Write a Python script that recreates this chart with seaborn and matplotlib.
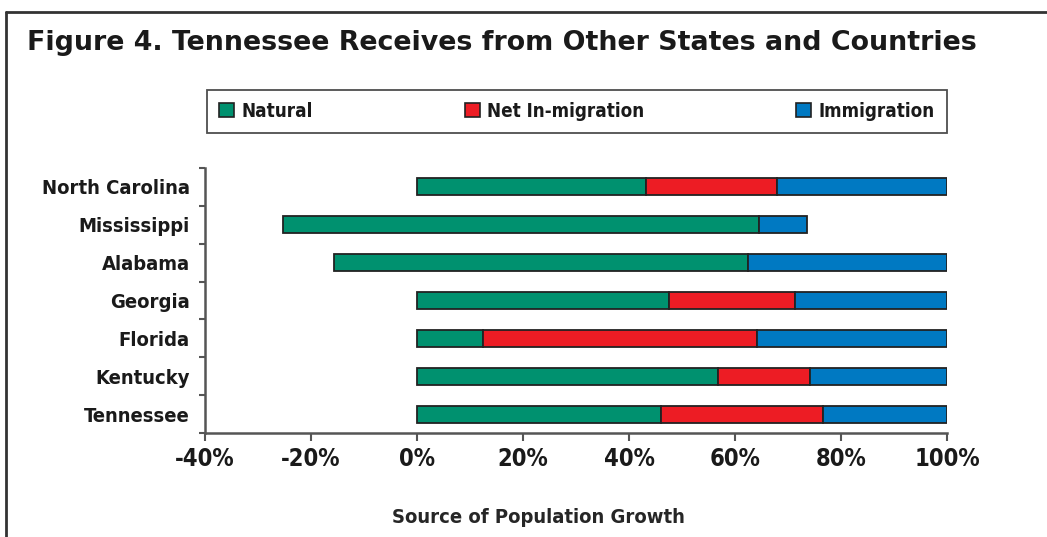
# stacked source-of-growth bars, Figure 4 style

import numpy as np
import pandas as pd
import matplotlib
matplotlib.use("Agg")
import matplotlib.pyplot as plt
import seaborn as sns
from matplotlib.lines import Line2D
from matplotlib.patches import Patch
from matplotlib.ticker import FixedLocator

states = ["North Carolina", "Mississippi", "Alabama", "Georgia", "Florida", "Kentucky", "Tennessee"]
natural = [43.3, 64.5, 62.4, 47.5, 12.4, 56.8, 46.0]
net_in = [24.7, -25.2, -15.6, 23.8, 51.8, 17.4, 30.6]
immigration = [32.0, 9.0, 37.6, 28.7, 35.8, 25.8, 23.4]

series_names = ["Natural", "Net In-migration", "Immigration"]
colors = ["#00916f", "#ed1c24", "#0079c2"]
x_ticks = [-40, -20, 0, 20, 40, 60, 80, 100]

df = pd.DataFrame({"state": states, "natural": natural, "net_in": net_in, "immigration": immigration})
# green spans from the negative net migration (if any) up to the natural share
df["green_left"] = df["net_in"].clip(upper=0)
df["green_w"] = df["natural"] - df["green_left"]
df["red_left"] = df["natural"]
df["red_w"] = df["net_in"].clip(lower=0)
df["blue_left"] = df["natural"] + df["red_w"]
df["blue_w"] = df["immigration"]

sns.set_style("white")
plt.rcParams["font.family"] = ["DejaVu Sans"]
plt.rcParams["font.stretch"] = "condensed"
plt.rcParams["font.weight"] = "bold"
plt.rcParams["text.color"] = "#1a1a1a"
plt.rcParams["xtick.color"] = "#555555"
plt.rcParams["ytick.color"] = "#555555"
plt.rcParams["xtick.labelcolor"] = "#1a1a1a"
plt.rcParams["ytick.labelcolor"] = "#1a1a1a"

fig = plt.figure(figsize=(10.47, 5.37), dpi=100)
ax = fig.add_axes([205 / 1047, (537 - 433) / 537, 742 / 1047, 265 / 537])

for key, col in zip(["green", "red", "blue"], colors):
    sns.barplot(data=df, x=f"{key}_w", y="state", order=states, left=df[f"{key}_left"].values,
                color=col, saturation=1, width=0.45, edgecolor="#222222", linewidth=1.3, ax=ax)

ax.set_xlim(-40, 100)
ax.set_ylim(6.5, -0.5)
ax.set_xticks(x_ticks)
ax.set_xticklabels([f"{t}%" for t in x_ticks], fontsize=17, fontweight="bold")
ax.set_yticklabels(states, fontsize=14.5, fontweight="bold")
ax.yaxis.set_minor_locator(FixedLocator(np.arange(-0.5, len(states), 1.0)))
ax.tick_params(axis="y", which="major", left=True, length=0, pad=11)
ax.tick_params(axis="y", which="minor", left=True, length=4, width=1.5, direction="out")
ax.tick_params(axis="x", which="major", bottom=True, length=6, width=1.5, direction="out", pad=4)

for side in ["top", "right"]:
    ax.spines[side].set_visible(False)
for side in ["left", "bottom"]:
    ax.spines[side].set_color("#555555")
    ax.spines[side].set_linewidth(1.8)

ax.set_xlabel("Source of Population Growth", fontsize=14.5, fontweight="bold")
ax.xaxis.set_label_coords(0.45, -0.283)
ax.set_ylabel("")

handles = [Patch(facecolor=c, edgecolor="#222222", linewidth=1.2) for c in colors]
leg = ax.legend(handles, series_names, ncol=3, mode="expand", loc="lower left",
                bbox_to_anchor=(0.003, 1.132, 0.997, 0.151), frameon=True, fancybox=False,
                prop={"size": 13.5, "weight": "bold", "stretch": "condensed"},
                handlelength=0.8, handleheight=0.8, handletextpad=0.4, borderaxespad=0,
                borderpad=0.65)
leg.get_frame().set_edgecolor("#222222")
leg.get_frame().set_linewidth(1.3)

fig.text(27 / 1047, 1 - 43 / 537, "Figure 4. Tennessee Receives from Other States and Countries",
         fontsize=19.4, fontweight="bold", fontstretch="normal", va="center", ha="left")

# outer frame: top and left rules
fig.add_artist(Line2D([6 / 1047, 1], [1 - 12 / 537, 1 - 12 / 537], color="#333333", lw=2))
fig.add_artist(Line2D([6 / 1047, 6 / 1047], [0, 1 - 12 / 537], color="#333333", lw=2))

fig.savefig("out.png", dpi=100)
plt.close()
